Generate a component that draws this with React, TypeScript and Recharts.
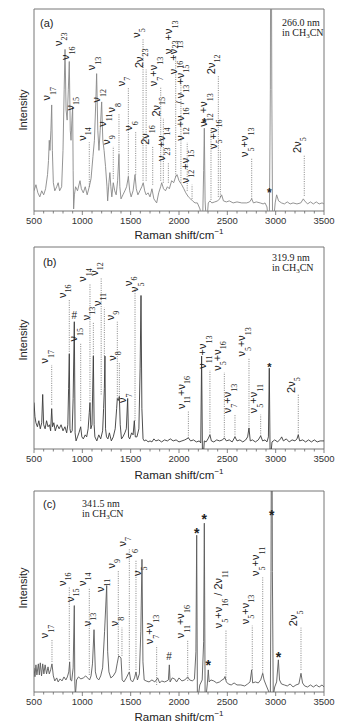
import React from "react";
import {
  ComposedChart,
  Line,
  XAxis,
  YAxis,
  ReferenceLine,
  ReferenceDot,
  ReferenceArea,
} from "recharts";

// x axis ticks (cm-1)
const majorTicks = [500, 1000, 1500, 2000, 2500, 3000, 3500];
const allTicks = [
  500, 600, 700, 800, 900, 1000, 1100, 1200, 1300, 1400, 1500, 1600, 1700,
  1800, 1900, 2000, 2100, 2200, 2300, 2400, 2500, 2600, 2700, 2800, 2900,
  3000, 3100, 3200, 3300, 3400, 3500,
];

// spectra: [Raman shift, intensity (0..100 of the frame)]
const specA: [number, number][] = [
  [500, 10], [520, 13], [540, 9], [560, 7], [580, 10], [600, 8], [620, 11],
  [640, 18], [650, 25], [658, 35], [665, 30], [675, 40], [683, 52.5], [690, 30],
  [700, 14], [715, 10], [735, 12], [750, 14], [765, 10], [786, 12], [800, 30],
  [812, 60], [821, 80], [832, 50], [843, 45], [855, 60], [865, 74], [875, 40],
  [883, 35], [892, 45], [900, 51.6], [905, 20], [910, 1], [918, 8], [930, 12],
  [950, 10], [976, 15], [990, 11], [1010, 9], [1030, 12], [1050, 8], [1072, 12],
  [1090, 16], [1110, 27], [1125, 35], [1140, 55], [1148, 68], [1160, 40],
  [1172, 30], [1185, 40], [1200, 54], [1212, 35], [1225, 30], [1240, 22],
  [1255, 12], [1262, 5], [1275, 14], [1285, 19], [1295, 12], [1305, 7],
  [1320, 14], [1335, 10], [1350, 8], [1365, 15], [1379, 28], [1388, 12],
  [1400, 6], [1420, 8], [1440, 10], [1458, 12], [1476, 17], [1490, 10],
  [1505, 7], [1525, 10], [1545, 18], [1558, 11], [1575, 8], [1595, 10],
  [1615, 12], [1630, 14], [1645, 10], [1660, 8], [1680, 9], [1700, 7],
  [1720, 11], [1740, 6], [1769, 4], [1790, 9], [1810, 12], [1821, 14],
  [1840, 11], [1860, 10], [1880, 12], [1900, 11], [1924, 15], [1945, 14],
  [1966, 17], [1980, 18], [2000, 15], [2028, 13], [2050, 11], [2070, 9],
  [2097, 7], [2120, 6], [2140, 5], [2166, 4], [2190, 4], [2217, 1], [2235, -4],
  [2245, -4], [2255, 20], [2262, 41], [2270, 5], [2280, -4], [2290, -4],
  [2303, 4], [2320, 5], [2340, 4], [2370, 4.5], [2400, 5], [2420, 6], [2441, 8],
  [2460, 5], [2490, 4.5], [2520, 5], [2560, 4], [2600, 4.5], [2649, 4],
  [2700, 4], [2730, 4.5], [2752, 6], [2770, 4], [2800, 4.5], [2840, 4],
  [2870, 3.5], [2890, 4], [2910, 2], [2924, -4], [2935, -4], [2945, 60],
  [2952, 200], [2960, 60], [2968, -4], [2980, -4], [2995, 4], [3010, 8],
  [3030, 5], [3060, 4], [3090, 3.5], [3120, 4.5], [3150, 3.5], [3180, 4],
  [3220, 3.5], [3260, 4], [3286, 6], [3300, 5], [3330, 3.5], [3360, 4.5],
  [3390, 3.5], [3420, 4.5], [3450, 3.5], [3480, 4], [3500, 3.5],
];

const specB: [number, number][] = [
  [500, 23], [510, 16], [520, 13], [535, 11], [550, 14], [565, 10], [580, 13],
  [590, 27], [600, 12], [615, 10], [630, 14], [645, 11], [660, 12], [672, 9],
  [683, 20], [692, 11], [705, 13], [720, 9], [740, 12], [760, 10], [780, 12],
  [800, 9], [820, 11], [838, 8], [850, 12], [858, 30], [865, 47], [872, 10],
  [880, 8], [895, 9], [905, 25], [917, 63], [925, 8], [935, 4], [950, 6],
  [965, 8], [983, 11], [995, 6], [1010, 5], [1030, 7], [1045, 6], [1060, 10],
  [1072, 18], [1079, 23], [1088, 10], [1100, 12], [1114, 46], [1122, 12],
  [1130, 6], [1150, 4], [1170, 7], [1190, 5], [1210, 9], [1220, 20], [1228, 30],
  [1234, 46], [1240, 10], [1250, 6], [1265, 5], [1280, 8], [1300, 4], [1320, 6],
  [1340, 10], [1355, 20], [1362, 25], [1372, 24], [1383, 26], [1392, 12],
  [1405, 5], [1420, 6], [1440, 8], [1455, 10], [1469, 25], [1478, 6], [1490, 5],
  [1510, 8], [1525, 7], [1538, 14], [1548, 6], [1565, 6], [1585, 10],
  [1598, 40], [1607, 76], [1616, 20], [1628, 5], [1640, 4], [1660, 4.5],
  [1680, 3.5], [1700, 4], [1720, 3.5], [1740, 5], [1760, 4], [1790, 4.5],
  [1820, 3.5], [1850, 4.5], [1880, 4], [1910, 5], [1940, 4], [1970, 4.5],
  [2000, 3.5], [2030, 4], [2060, 4.5], [2097, 5.5], [2120, 4], [2150, 4.5],
  [2180, 3.5], [2210, 4], [2225, 3], [2234, 46], [2242, 0], [2252, -3],
  [2262, 4], [2280, 3.5], [2300, 5], [2320, 7], [2335, 4], [2360, 3.5],
  [2390, 4.5], [2420, 4], [2450, 4.5], [2469, 5.5], [2490, 4], [2520, 4.5],
  [2550, 3.5], [2579, 6], [2600, 4], [2630, 4.5], [2660, 3.5], [2690, 4.5],
  [2710, 6], [2724, 10.4], [2737, 4], [2760, 4.5], [2790, 3.5], [2820, 4.5],
  [2845, 6.5], [2865, 4], [2890, 4.5], [2910, 3.5], [2925, 6], [2934, 40],
  [2942, 0], [2950, -3], [2962, 3.5], [2990, 4.5], [3020, 3.5], [3050, 5],
  [3062, 6], [3080, 4], [3110, 5], [3140, 3.5], [3170, 4.5], [3200, 4],
  [3220, 5], [3234, 7], [3248, 4], [3280, 4.5], [3310, 3.5], [3340, 4.5],
  [3370, 3.5], [3400, 4.5], [3430, 3.5], [3460, 4], [3500, 4],
];

const specC: [number, number][] = [
  [500, 12], [510, 7.6], [520, 13.5], [530, 8.5], [545, 14], [555, 8.5],
  [565, 14.5], [578, 8], [590, 14], [602, 9], [615, 13.5], [630, 9],
  [645, 12.5], [658, 9], [672, 11], [686, 14], [700, 8], [715, 5.5], [735, 7],
  [750, 5], [770, 6.5], [790, 5.5], [810, 7.5], [830, 6], [845, 7.5], [860, 10],
  [869, 15], [877, 6], [890, 5.5], [905, 12], [917, 43], [922, 5], [928, -2],
  [940, 6], [960, 7.5], [985, 6.5], [1010, 7], [1035, 8], [1055, 7], [1075, 6],
  [1090, 8], [1105, 14], [1121, 31], [1135, 10], [1150, 7], [1170, 6],
  [1190, 8], [1210, 12], [1230, 30], [1252, 53], [1262, 20], [1275, 10],
  [1295, 7], [1320, 8], [1345, 10], [1360, 14], [1376, 18], [1400, 17],
  [1412, 6], [1430, 5], [1455, 7], [1475, 9], [1486, 10], [1500, 6], [1520, 5],
  [1540, 7], [1555, 10], [1570, 6], [1590, 9], [1605, 30], [1617, 66],
  [1627, 15], [1640, 6], [1660, 5.5], [1690, 5], [1720, 6], [1750, 5],
  [1779, 7], [1800, 4.5], [1820, 5.5], [1850, 5], [1875, 5.5], [1890, 6],
  [1900, 13.5], [1908, 5], [1930, 7], [1955, 6.5], [1975, 5], [2000, 7],
  [2030, 5.5], [2060, 6], [2090, 7.5], [2110, 6], [2140, 5.5], [2160, 6.5],
  [2175, 20], [2183, 78], [2190, 0], [2200, -2], [2215, 3.5], [2240, 6],
  [2255, 25], [2262, 84], [2270, 0], [2280, -2], [2293, 4], [2303, 11],
  [2312, 5], [2330, 6], [2360, 5.5], [2390, 4.5], [2420, 5], [2445, 6],
  [2465, 6.5], [2476, 7.7], [2490, 5], [2510, 4], [2540, 3.5], [2570, 4.5],
  [2600, 3.5], [2640, 3.5], [2680, 3], [2710, 4], [2735, 5], [2752, 11],
  [2762, 4.5], [2790, 5], [2820, 4.5], [2845, 6], [2866, 9.3], [2880, 6],
  [2900, 3.5], [2930, 0], [2945, -2], [2952, 60], [2959, 200], [2966, 60],
  [2975, -2], [2990, 2.5], [3010, 5], [3028, 16], [3040, 6], [3060, 4],
  [3090, 3.5], [3120, 3], [3150, 4], [3180, 2.5], [3210, 3.5], [3240, 4],
  [3262, 9.3], [3278, 4.5], [3300, 3], [3330, 2.5], [3360, 3.5], [3390, 2.5],
  [3420, 3.5], [3450, 2.5], [3480, 3.5], [3500, 2.5],
];

// band assignments: [text ("_" = subscript), shift, label foot, dotted line foot or null]
type Lab = [string, number, number, number | null];

const labelsA: Lab[] = [
  ["ν_17", 707, 54, null],
  ["ν_23", 821, 81, null],
  ["ν_16", 900, 74, null],
  ["ν_15", 945, 49, null],
  ["ν_14", 1072, 34, 12],
  ["ν_13", 1172, 69, null],
  ["ν_12", 1224, 53, null],
  ["ν_11", 1286, 41, null],
  ["ν_9", 1320, 32, 16],
  ["ν_8", 1379, 48, 28],
  ["ν_7", 1476, 61, 17],
  ["ν_6", 1552, 39, 18],
  ["ν_5", 1628, 85, 15],
  ["2ν_23", 1660, 70, 15],
  ["2ν_16", 1728, 32, 13],
  ["ν_7+ν_13", 1811, 61, 15],
  ["2ν_15", 1838, 46, 14],
  ["ν_23+ν_14", 1890, 24, 14],
  ["ν_23+ν_13", 1966, 77, 17],
  ["ν_16+ν_13", 2020, 67, 14],
  ["ν_12+ν_16 / ν_13+ν_15", 2085, 34, 10],
  ["ν_12+ν_15", 2135, 13, 6],
  ["ν_12+ν_13", 2331, 41, 5.5],
  ["2ν_12", 2407, 67, 7],
  ["ν_5+ν_16", 2428, 30, 7],
  ["ν_5+ν_13", 2752, 26, 6],
  ["2ν_5", 3296, 28, 7.5],
];

const labelsB: Lab[] = [
  ["ν_17", 683, 41.6, 22],
  ["ν_16", 865, 74, 47],
  ["ν_15", 983, 52.5, 14],
  ["ν_14", 1079, 82, 24],
  ["ν_13", 1114, 63, 46],
  ["ν_12", 1195, 85, 27],
  ["ν_11", 1228, 70, 46],
  ["ν_9", 1362, 63, 25],
  ["ν_8", 1383, 43, 26],
  ["ν_7", 1490, 22, null],
  ["ν_6", 1545, 80, 14],
  ["ν_5", 1613, 77, null],
  ["ν_11+ν_16", 2097, 19, 5.5],
  ["ν_11+ν_13", 2320, 39, 7],
  ["ν_5+ν_16", 2469, 38, 6],
  ["ν_7+ν_13", 2579, 17, 6],
  ["ν_5+ν_13", 2724, 45, 10],
  ["ν_5+ν_11", 2845, 17, 6.5],
  ["2ν_5", 3234, 27, 7],
];

const labelsC: Lab[] = [
  ["ν_17", 686, 26, 15],
  ["ν_16", 865, 52, 16],
  ["ν_15", 945, 44, null],
  ["ν_14", 1072, 52, 8.5],
  ["ν_13", 1121, 32, null],
  ["ν_11", 1262, 49, null],
  ["ν_9", 1372, 60.7, 18.4],
  ["ν_8", 1410, 32, 18],
  ["ν_7", 1486, 71.6, 11],
  ["ν_6", 1555, 65.7, 11],
  ["ν_5", 1645, 57, null],
  ["ν_7+ν_13", 1769, 23, 3.5],
  ["ν_11+ν_16", 2090, 26, 5.5],
  ["ν_5+ν_16 / 2ν_11", 2486, 31, 6],
  ["ν_5+ν_13", 2758, 33, 11],
  ["ν_5+ν_11", 2866, 57, 8.5],
  ["2ν_5", 3262, 32, 11],
];

// solvent (*) and impurity (#) marks: [shift, intensity]
const starsA: [number, number][] = [[2262, 45], [2935, 10.5]];
const starsB: [number, number][] = [[2934, 42]];
const starsC: [number, number][] = [[2183, 81], [2262, 88], [2303, 15], [2959, 90], [3028, 19]];
const hashB: [number, number][] = [[917, 66]];
const hashC: [number, number][] = [[1898, 17.5]];

const SANS = "'Liberation Sans', Arial, sans-serif";
const SERIF = "'Liberation Serif', 'Times New Roman', serif";

const XTick = (props: any) => {
  const { x, y, payload } = props;
  const major = majorTicks.includes(payload.value);
  return (
    <g>
      <line x1={x} x2={x} y1={y} y2={y + (major ? 4 : 2.5)} stroke="#666" strokeWidth={0.8} />
      {major && (
        <text x={x} y={y + 12.5} textAnchor="middle" fontSize={9.5} fontFamily={SANS} fill="#333">
          {payload.value}
        </text>
      )}
    </g>
  );
};

const RotLabel = ({ cx, cy, text }: { cx: number; cy: number; text: string }) => {
  const parts = text.split(/_(\d+)/);
  let inSub = false;
  const spans: React.ReactNode[] = [];
  parts.forEach((p, i) => {
    if (p === "") return;
    const sub = i % 2 === 1;
    let dy = 0;
    if (sub && !inSub) dy = 5.5;
    if (!sub && inSub) dy = -5.5;
    inSub = sub;
    spans.push(
      <tspan
        key={i}
        dy={dy}
        fontSize={sub ? 8 : 11}
        fontFamily={sub ? SERIF : SANS}
      >
        {p}
      </tspan>
    );
  });
  return (
    <text
      transform={`rotate(-90 ${cx} ${cy})`}
      x={cx + 1.5}
      y={cy - 3.5}
      fill="#222"
      style={{ whiteSpace: "pre" }}
    >
      {spans}
    </text>
  );
};

const Mark = ({ cx, cy, ch, size }: { cx: number; cy: number; ch: string; size: number }) => (
  <text
    x={cx}
    y={ch === "*" ? cy + size * 0.6 : cy + size * 0.36}
    textAnchor="middle"
    fontSize={size}
    fontWeight={ch === "*" ? 700 : 400}
    fontFamily={SANS}
    fill="#222"
  >
    {ch}
  </text>
);

type PanelProps = {
  spec: [number, number][];
  labels: Lab[];
  stars: [number, number][];
  hashes: [number, number][];
  height: number;
  top: number;
  axisH: number;
  color: string;
  starSize: number;
};

const Panel = ({ spec, labels, stars, hashes, height, top, axisH, color, starSize }: PanelProps) => {
  const rows = spec.map(([x, y]) => ({ x, y }));
  return (
    <ComposedChart
      width={358}
      height={height}
      data={rows}
      margin={{ top, right: 34, bottom: 0, left: 34 }}
    >
      <XAxis
        dataKey="x"
        type="number"
        domain={[500, 3500]}
        ticks={allTicks}
        interval={0}
        tick={<XTick />}
        tickSize={0}
        tickMargin={0}
        tickLine={false}
        axisLine={false}
        height={axisH}
        allowDataOverflow
      />
      <YAxis type="number" domain={[0, 100]} hide allowDataOverflow />
      <Line
        dataKey="y"
        type="linear"
        stroke={color}
        strokeWidth={0.9}
        dot={false}
        activeDot={false}
        isAnimationActive={false}
      />
      {labels
        .filter((l) => l[3] !== null)
        .map(([t, x, y, base], i) => (
          <ReferenceLine
            key={"d" + i}
            segment={[{ x, y: base as number }, { x, y }]}
            stroke="#666"
            strokeWidth={0.8}
            strokeDasharray="1 1.3"
          />
        ))}
      {labels.map(([t, x, y], i) => (
        <ReferenceDot
          key={"t" + i}
          x={x}
          y={y}
          r={0}
          shape={(p: any) => <RotLabel cx={p.cx} cy={p.cy} text={t} />}
        />
      ))}
      {stars.map(([x, y], i) => (
        <ReferenceDot
          key={"s" + i}
          x={x}
          y={y}
          r={0}
          shape={(p: any) => <Mark cx={p.cx} cy={p.cy} ch="*" size={starSize} />}
        />
      ))}
      {hashes.map(([x, y], i) => (
        <ReferenceDot
          key={"h" + i}
          x={x}
          y={y}
          r={0}
          shape={(p: any) => <Mark cx={p.cx} cy={p.cy} ch="#" size={10} />}
        />
      ))}
      <ReferenceArea
        x1={500}
        x2={3500}
        y1={0}
        y2={100}
        fill="none"
        fillOpacity={0}
        stroke="#777"
        strokeWidth={1}
        ifOverflow="visible"
      />
    </ComposedChart>
  );
};

const SolventNote = ({ x, y, nm }: { x: number; y: number; nm: string }) => (
  <g fontFamily={SERIF} fontSize={10} fill="#222">
    <text x={x} y={y}>{nm}</text>
    <text x={x} y={y + 10}>
      in CH<tspan dy={2} fontSize={7}>3</tspan>
      <tspan dy={-2}>CN</tspan>
    </text>
  </g>
);

const AxisTexts = ({ yMid, yLabel }: { yMid: number; yLabel: number }) => (
  <g fontFamily={SANS} fill="#222">
    <text transform={`rotate(-90 27 ${yMid})`} x={27} y={yMid} textAnchor="middle" fontSize={11}>
      Intensity
    </text>
    <text x={179} y={yLabel} textAnchor="middle" fontSize={11.5}>
      Raman shift/cm<tspan dy={-5} fontSize={8}>−1</tspan>
    </text>
  </g>
);

export default function App() {
  return (
    <div style={{ position: "absolute", left: 0, top: 0, width: 358, height: 727, background: "#fff" }}>
      <div style={{ position: "absolute", left: 0, top: 0 }}>
        <Panel spec={specA} labels={labelsA} stars={starsA} hashes={[]} height={240} top={9} axisH={29} color="#888" starSize={12} />
      </div>
      <div style={{ position: "absolute", left: 0, top: 240 }}>
        <Panel spec={specB} labels={labelsB} stars={starsB} hashes={hashB} height={240} top={7} axisH={31} color="#3a3a3a" starSize={11} />
      </div>
      <div style={{ position: "absolute", left: 0, top: 480 }}>
        <Panel spec={specC} labels={labelsC} stars={starsC} hashes={hashC} height={247} top={11} axisH={35} color="#5a5a5a" starSize={14} />
      </div>
      <svg
        width={358}
        height={727}
        style={{ position: "absolute", left: 0, top: 0, pointerEvents: "none" }}
      >
        <g fontFamily={SANS} fontSize={11} fill="#222">
          <text x={40} y={27}>(a)</text>
          <text x={43} y={266}>(b)</text>
          <text x={43} y={508}>(c)</text>
        </g>
        <SolventNote x={282} y={26} nm="266.0 nm" />
        <SolventNote x={272} y={261} nm="319.9 nm" />
        <SolventNote x={82} y={507} nm="341.5 nm" />
        <AxisTexts yMid={110} yLabel={239} />
        <AxisTexts yMid={340} yLabel={479} />
        <AxisTexts yMid={588} yLabel={721} />
      </svg>
    </div>
  );
}
